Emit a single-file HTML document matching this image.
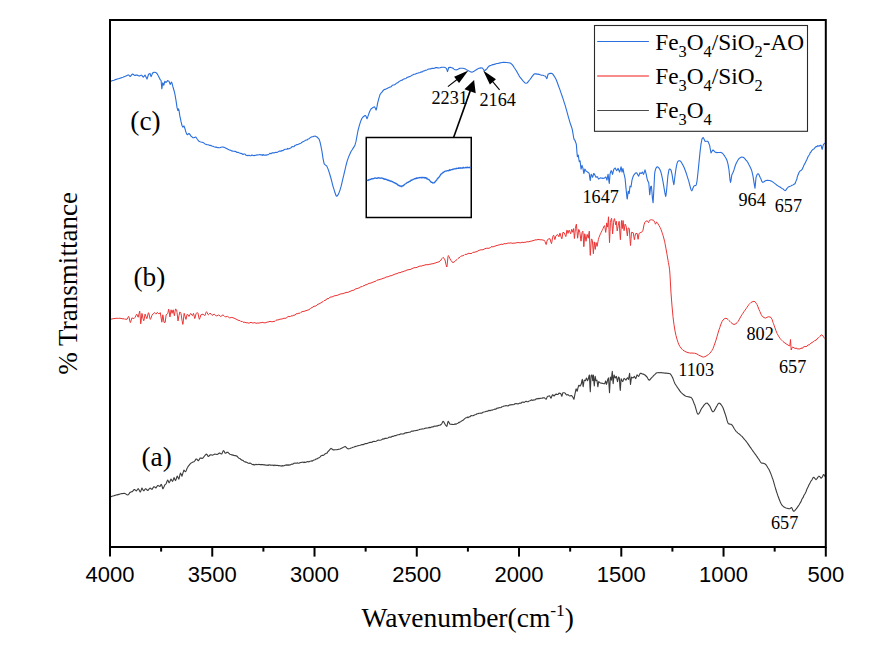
<!DOCTYPE html>
<html><head><meta charset="utf-8"><title>FTIR</title>
<style>
html,body{margin:0;padding:0;background:#fff;}
body{width:881px;height:655px;overflow:hidden;}
svg{display:block;}
text{font-family:"Liberation Serif",serif;fill:#000;}
.tk text{font-family:"Liberation Sans",sans-serif;font-size:22px;text-anchor:middle;}
.pk text{font-size:18.2px;}
.lg text{font-size:23.3px;}
.ab text{font-size:27.3px;}
</style></head><body>
<svg width="881" height="655" viewBox="0 0 881 655">
<rect x="0" y="0" width="881" height="655" fill="#fff"/>
<g fill="none" stroke-linejoin="round" stroke-linecap="round">
<path d="M110.3,81.3 L111.0,81.2 L112.0,80.8 L113.0,80.5 L114.0,80.2 L115.0,79.7 L116.0,79.4 L117.0,79.2 L117.2,79.0 L118.0,78.8 L119.0,78.6 L120.0,78.2 L121.0,77.9 L122.0,77.5 L123.0,77.2 L124.0,76.7 L124.8,76.5 L125.0,76.5 L126.0,75.9 L127.0,75.5 L128.0,75.1 L128.6,74.9 L129.0,75.3 L130.0,76.5 L130.2,76.5 L131.0,75.7 L132.0,74.4 L132.5,74.0 L133.0,74.2 L134.0,75.0 L134.8,75.4 L135.0,75.4 L136.0,75.1 L137.0,75.1 L138.0,75.4 L139.0,76.1 L139.3,76.1 L140.0,75.7 L141.0,75.3 L141.6,75.2 L142.0,75.6 L143.0,76.9 L143.4,77.1 L144.0,76.4 L145.0,75.0 L146.0,77.0 L147.0,79.1 L148.0,76.0 L148.5,74.5 L149.0,74.0 L150.0,73.4 L151.0,76.5 L151.1,76.6 L152.0,74.5 L152.6,73.0 L153.0,72.7 L154.0,72.4 L154.6,72.3 L155.0,72.3 L156.0,72.7 L156.9,73.5 L157.0,73.4 L158.0,75.3 L158.4,76.0 L159.0,77.2 L159.9,79.0 L160.0,79.3 L161.0,80.5 L161.1,80.5 L161.8,88.8 L162.0,87.9 L162.7,82.8 L163.0,83.3 L163.7,85.3 L164.0,84.6 L164.8,81.3 L165.0,81.5 L166.0,82.5 L167.0,81.3 L167.6,80.6 L168.0,80.8 L169.0,81.4 L169.1,81.4 L170.0,84.1 L170.3,84.4 L171.0,82.7 L171.4,82.1 L172.0,83.1 L172.9,86.6 L173.0,87.0 L174.0,90.5 L174.4,91.9 L175.0,94.7 L175.9,99.8 L176.0,100.3 L177.0,107.4 L177.9,110.5 L178.0,110.3 L178.5,108.8 L179.0,110.5 L179.8,115.7 L180.0,116.7 L181.0,121.4 L181.3,122.6 L182.0,125.5 L182.8,127.1 L183.0,127.0 L184.0,126.0 L185.0,128.7 L185.6,131.0 L186.0,132.2 L187.0,134.5 L187.4,134.8 L188.0,134.2 L188.9,133.5 L189.0,133.5 L190.0,134.5 L191.0,136.1 L191.2,136.3 L192.0,136.9 L193.0,137.7 L193.5,137.8 L194.0,137.8 L195.0,137.3 L195.8,137.1 L196.0,137.2 L197.0,138.7 L197.3,139.2 L198.0,140.2 L199.0,141.3 L199.6,141.5 L200.0,141.7 L201.0,142.0 L202.0,142.2 L202.7,142.4 L203.0,142.5 L204.0,143.1 L205.0,143.9 L205.7,144.2 L206.0,144.3 L207.0,144.7 L208.0,144.7 L209.0,145.1 L210.0,145.4 L210.3,145.4 L211.0,145.6 L212.0,146.1 L213.0,146.3 L214.0,146.7 L214.9,147.0 L215.0,147.1 L216.0,147.1 L217.0,147.4 L218.0,147.6 L219.0,147.8 L219.4,147.7 L220.0,147.7 L221.0,147.3 L222.0,147.0 L222.5,147.0 L223.0,147.1 L224.0,147.3 L225.0,147.7 L226.0,148.2 L227.0,148.8 L227.1,148.7 L228.0,149.3 L229.0,149.8 L230.0,150.1 L231.0,150.6 L231.6,150.9 L232.0,150.9 L233.0,151.2 L234.0,151.2 L235.0,151.4 L236.0,151.6 L237.0,152.5 L238.0,152.3 L239.0,152.8 L240.0,153.2 L241.0,153.4 L242.0,153.7 L243.0,154.5 L244.0,154.0 L245.0,154.0 L246.0,155.3 L247.0,155.4 L248.0,155.7 L249.0,155.1 L250.0,155.7 L251.0,155.7 L252.0,154.9 L253.0,155.5 L254.0,155.6 L255.0,155.4 L256.0,155.2 L257.0,154.9 L258.0,155.0 L259.0,154.8 L260.0,154.6 L261.0,155.1 L262.0,154.8 L262.5,155.3 L263.0,154.5 L264.0,155.3 L265.0,155.0 L266.0,155.1 L267.0,154.9 L268.0,154.7 L269.0,154.1 L270.0,153.2 L271.0,153.8 L272.0,152.9 L273.0,152.8 L274.0,152.9 L275.0,152.5 L276.0,152.2 L277.0,152.5 L278.0,151.9 L279.0,151.3 L280.0,150.9 L281.0,151.3 L282.0,150.5 L283.0,150.6 L284.0,149.8 L285.0,149.3 L286.0,149.3 L287.0,149.3 L287.5,148.4 L288.0,148.9 L289.0,148.7 L290.0,148.2 L291.0,147.8 L292.0,146.5 L293.0,146.8 L294.0,146.6 L295.0,145.3 L296.0,145.1 L297.0,144.6 L298.0,144.5 L299.0,143.9 L300.0,143.5 L301.0,143.2 L302.0,142.2 L303.0,141.7 L304.0,141.2 L305.0,140.6 L306.0,140.0 L307.0,140.0 L307.5,139.7 L308.0,139.0 L309.0,138.7 L310.0,137.9 L311.0,137.3 L312.0,136.8 L313.0,136.6 L314.0,136.3 L314.5,136.2 L315.0,136.1 L316.0,136.5 L317.0,137.0 L318.0,138.0 L318.8,138.9 L319.0,139.0 L320.0,141.9 L321.0,146.3 L321.2,147.5 L322.0,151.6 L323.0,158.3 L324.0,163.1 L324.2,163.8 L325.0,164.7 L326.0,165.4 L326.8,166.2 L327.0,166.6 L328.0,168.9 L329.0,171.8 L330.0,175.0 L331.0,178.5 L332.0,182.4 L333.0,186.3 L333.8,188.8 L334.0,189.4 L335.0,192.8 L336.0,195.5 L336.8,196.3 L337.0,196.3 L338.0,194.9 L339.0,192.7 L340.0,190.1 L341.0,186.7 L342.0,182.6 L343.0,178.1 L343.8,175.1 L344.0,174.0 L345.0,169.8 L346.0,165.5 L347.0,161.6 L347.5,160.1 L348.0,158.6 L349.0,155.9 L350.0,153.8 L351.0,151.6 L351.2,151.2 L352.0,150.0 L353.0,148.4 L354.0,146.9 L355.0,144.9 L356.0,141.4 L357.0,135.9 L358.0,130.5 L358.8,127.6 L359.0,126.6 L360.0,123.4 L361.0,120.4 L362.0,118.3 L362.5,117.6 L363.0,117.0 L364.0,116.2 L365.0,115.5 L365.5,115.6 L366.0,116.3 L367.0,118.8 L368.0,116.2 L368.8,113.8 L369.0,113.3 L370.0,110.7 L371.0,109.0 L371.2,108.8 L372.0,108.2 L373.0,107.4 L374.0,107.0 L374.5,106.9 L375.0,107.6 L376.0,109.9 L376.2,110.0 L377.0,106.7 L377.5,103.7 L378.0,101.6 L379.0,97.8 L380.0,94.6 L381.0,93.2 L382.0,92.2 L383.0,90.6 L383.8,90.2 L384.0,89.5 L385.0,89.4 L386.0,88.9 L387.0,88.4 L388.0,87.9 L389.0,87.5 L390.0,87.1 L391.0,86.8 L392.0,85.6 L393.0,85.0 L394.0,85.0 L395.0,84.5 L396.0,83.6 L397.0,82.9 L398.0,82.6 L399.0,81.5 L400.0,81.0 L401.0,80.4 L402.0,80.3 L403.0,79.5 L404.0,78.9 L405.0,78.8 L406.0,78.5 L407.0,77.4 L408.0,77.3 L409.0,76.6 L410.0,76.6 L411.0,75.9 L412.0,75.2 L413.0,74.8 L414.0,74.2 L415.0,74.3 L416.0,73.8 L417.0,73.3 L418.0,73.1 L419.0,72.7 L420.0,72.7 L421.0,71.8 L422.0,72.1 L423.0,71.2 L424.0,70.9 L425.0,70.4 L426.0,70.3 L427.0,69.9 L428.0,69.3 L429.0,69.0 L430.0,68.9 L431.0,68.9 L432.0,68.3 L433.0,68.4 L434.0,68.5 L435.0,67.9 L436.0,67.6 L437.0,67.5 L437.5,67.9 L438.0,67.8 L439.0,68.0 L440.0,67.8 L441.0,67.4 L442.0,67.3 L443.0,67.3 L444.0,67.2 L445.0,67.5 L446.0,68.1 L446.4,68.4 L447.0,70.2 L447.5,71.6 L448.0,70.0 L448.7,67.5 L449.0,67.6 L450.0,67.4 L451.0,67.4 L451.1,67.6 L452.0,67.7 L453.0,68.3 L454.0,69.1 L455.0,69.7 L455.9,69.8 L456.0,69.9 L457.0,69.7 L458.0,69.2 L459.0,68.6 L460.0,68.3 L460.7,68.3 L461.0,68.2 L462.0,68.3 L463.0,68.3 L464.0,68.5 L464.6,68.7 L465.0,68.7 L466.0,69.4 L467.0,70.0 L467.8,70.2 L468.0,70.5 L469.0,70.9 L470.0,71.6 L471.0,72.0 L471.8,72.1 L472.0,72.1 L473.0,71.8 L474.0,71.3 L475.0,70.6 L476.0,70.1 L477.0,69.3 L478.0,68.7 L478.1,68.6 L479.0,68.3 L480.0,68.1 L481.0,67.9 L482.0,68.0 L482.1,67.9 L483.0,68.8 L484.0,70.3 L484.5,70.7 L485.0,70.5 L486.0,69.5 L486.1,69.6 L487.0,68.6 L488.0,67.1 L489.0,66.3 L489.3,65.9 L490.0,65.6 L491.0,65.3 L492.0,64.9 L493.0,64.6 L494.0,64.4 L495.0,64.1 L495.6,64.0 L496.0,63.8 L497.0,63.5 L498.0,63.4 L499.0,63.2 L500.0,62.9 L501.0,62.7 L502.0,62.5 L503.0,62.4 L503.6,62.4 L504.0,62.5 L505.0,62.3 L506.0,62.5 L507.0,62.5 L508.0,62.7 L509.0,62.7 L510.0,63.1 L511.0,63.6 L511.2,63.8 L512.0,64.4 L513.0,65.6 L514.0,67.3 L515.0,68.7 L516.0,70.2 L517.0,71.9 L518.0,73.7 L519.0,75.6 L520.0,77.1 L521.0,78.4 L521.2,78.7 L522.0,79.6 L523.0,80.9 L524.0,82.0 L525.0,82.9 L526.0,83.3 L526.2,83.2 L527.0,83.0 L528.0,82.0 L529.0,80.7 L530.0,79.5 L531.0,78.1 L532.0,76.6 L533.0,75.3 L534.0,74.1 L535.0,73.8 L536.0,73.9 L537.0,74.1 L538.0,74.1 L539.0,74.4 L540.0,74.7 L541.0,75.0 L541.2,75.1 L542.0,75.2 L543.0,75.3 L544.0,75.7 L545.0,76.0 L545.5,76.3 L546.0,77.3 L546.8,78.6 L547.0,78.4 L548.0,74.3 L549.0,73.7 L550.0,73.4 L551.0,73.2 L551.2,73.2 L552.0,73.5 L553.0,74.4 L554.0,75.9 L555.0,77.5 L556.0,79.3 L557.0,81.7 L558.0,84.5 L559.0,87.3 L560.0,89.9 L561.0,92.9 L562.0,95.7 L563.0,98.6 L564.0,101.8 L565.0,104.9 L566.0,108.3 L567.0,111.9 L568.0,115.6 L569.0,119.1 L570.0,122.6 L571.0,125.5 L572.0,128.4 L572.4,130.1 L573.0,133.7 L573.9,139.0 L574.0,139.2 L574.9,140.4 L575.0,140.5 L576.0,143.2 L576.4,144.9 L577.0,153.0 L577.4,156.6 L578.0,155.6 L578.3,155.1 L579.0,160.2 L579.3,161.6 L580.0,160.9 L580.1,160.9 L581.0,168.8 L581.1,169.1 L582.0,165.4 L583.0,168.4 L583.8,173.5 L584.0,173.1 L584.8,169.1 L585.0,169.2 L586.0,171.0 L586.3,171.3 L587.0,171.6 L587.8,172.2 L588.0,172.3 L589.0,173.1 L589.2,173.5 L590.0,179.3 L590.3,180.5 L591.0,175.0 L591.2,174.2 L592.0,176.0 L592.6,177.3 L593.0,176.0 L593.7,173.5 L594.0,173.6 L594.8,174.9 L595.0,175.3 L596.0,177.2 L597.0,176.9 L597.5,176.8 L598.0,177.9 L598.5,178.9 L599.0,178.9 L600.0,178.1 L600.7,177.9 L601.0,178.0 L602.0,178.1 L603.0,178.4 L603.7,178.3 L604.0,178.3 L605.0,177.6 L605.9,177.1 L606.0,177.4 L606.9,180.1 L607.0,180.0 L608.0,174.4 L608.1,174.2 L609.0,182.0 L609.3,183.4 L610.0,174.2 L611.0,170.8 L611.4,170.7 L612.0,172.6 L612.5,174.4 L613.0,172.6 L613.6,169.9 L614.0,169.1 L615.0,168.1 L615.2,168.0 L616.0,169.6 L616.7,170.6 L617.0,170.3 L618.0,168.4 L618.2,168.4 L619.0,170.8 L619.6,172.1 L620.0,171.1 L621.0,166.9 L621.1,166.8 L622.0,171.9 L622.1,172.0 L622.9,168.6 L623.0,168.8 L624.0,173.9 L624.1,174.2 L625.0,178.2 L625.1,178.7 L626.0,188.1 L626.1,189.1 L627.0,198.2 L627.3,199.0 L628.0,192.9 L628.3,191.2 L629.0,193.3 L629.2,193.4 L630.0,186.1 L631.0,186.9 L632.0,180.1 L633.0,176.8 L633.5,175.7 L634.0,174.8 L635.0,173.6 L636.0,172.8 L636.5,172.9 L637.0,173.3 L637.6,174.4 L638.0,175.1 L638.7,176.1 L639.0,175.4 L639.8,172.8 L640.0,172.8 L641.0,173.5 L641.3,173.5 L642.0,172.5 L642.4,172.0 L643.0,173.4 L643.5,174.3 L644.0,173.2 L645.0,169.8 L646.0,173.4 L646.2,174.2 L647.0,178.3 L647.7,180.8 L648.0,181.4 L648.7,182.5 L649.0,185.5 L649.7,194.8 L650.0,192.8 L650.6,186.9 L651.0,186.3 L651.4,186.2 L652.0,192.6 L652.4,197.9 L653.0,202.5 L653.1,202.7 L653.9,189.0 L654.0,186.9 L654.6,174.2 L655.0,171.4 L655.6,169.2 L656.0,168.1 L657.0,166.9 L657.1,166.8 L658.0,167.1 L659.0,168.1 L660.0,169.7 L660.9,172.0 L661.0,172.3 L662.0,176.7 L662.7,180.2 L663.0,181.7 L664.0,187.6 L664.5,190.6 L665.0,193.5 L665.7,196.4 L666.0,195.3 L666.7,189.1 L667.0,185.8 L667.9,175.8 L668.0,175.1 L669.0,169.7 L669.4,169.0 L670.0,169.1 L670.8,169.9 L671.0,170.0 L672.0,174.1 L672.3,175.8 L673.0,180.6 L673.8,184.7 L674.0,184.0 L674.8,177.2 L675.0,175.7 L676.0,168.6 L676.3,166.9 L677.0,163.6 L677.8,161.4 L678.0,161.3 L679.0,160.7 L679.7,160.7 L680.0,160.8 L681.0,161.7 L681.9,163.3 L682.0,163.4 L683.0,165.2 L684.0,167.3 L685.0,169.8 L686.0,172.5 L687.0,175.7 L688.0,178.8 L688.8,181.2 L689.0,182.1 L690.0,186.0 L691.0,189.7 L691.8,190.8 L692.0,190.6 L693.0,188.0 L693.8,186.3 L694.0,186.0 L695.0,185.6 L696.0,185.3 L696.2,185.0 L697.0,181.3 L698.0,172.4 L699.0,162.4 L700.0,152.4 L701.0,144.1 L702.0,138.8 L703.0,137.7 L703.2,137.6 L704.0,139.0 L705.0,141.4 L706.0,141.3 L707.0,141.2 L707.8,141.4 L708.0,141.5 L709.0,143.7 L709.8,146.2 L710.0,147.6 L711.0,153.0 L712.0,151.3 L712.8,150.1 L713.0,150.0 L714.0,150.9 L715.0,151.9 L716.0,152.4 L717.0,152.6 L718.0,152.5 L719.0,152.5 L720.0,152.5 L721.0,152.4 L722.0,152.9 L723.0,153.8 L724.0,155.2 L724.8,156.2 L725.0,156.7 L726.0,158.3 L727.0,160.5 L727.2,161.2 L728.0,164.2 L729.0,170.0 L730.0,179.9 L730.5,182.4 L731.0,180.3 L731.8,175.0 L732.0,174.4 L733.0,172.4 L733.5,171.3 L734.0,169.8 L735.0,166.5 L736.0,163.7 L737.0,161.7 L738.0,160.0 L739.0,158.7 L739.8,158.0 L740.0,157.9 L741.0,157.3 L742.0,157.0 L742.2,157.1 L743.0,157.3 L744.0,157.8 L745.0,158.8 L746.0,160.1 L747.0,161.2 L748.0,162.8 L749.0,164.8 L749.8,166.3 L750.0,166.7 L751.0,168.8 L752.0,171.6 L752.2,172.6 L753.0,176.2 L754.0,182.6 L755.0,188.3 L756.0,177.6 L757.0,174.6 L758.0,173.7 L759.0,174.7 L760.0,177.0 L760.2,177.5 L761.0,179.1 L762.0,181.7 L762.8,182.4 L763.0,182.4 L764.0,181.8 L765.0,181.0 L766.0,180.5 L767.0,180.4 L768.0,180.4 L769.0,180.5 L769.8,180.5 L770.0,180.6 L771.0,180.9 L772.0,181.5 L773.0,182.1 L773.5,182.4 L774.0,182.9 L775.0,183.6 L776.0,184.4 L777.0,185.2 L778.0,185.9 L778.5,186.2 L779.0,186.5 L780.0,187.0 L781.0,187.8 L782.0,188.4 L782.8,188.8 L783.0,188.9 L784.0,189.9 L785.0,190.6 L785.2,190.6 L786.0,190.0 L787.0,188.4 L787.8,187.5 L788.0,187.2 L789.0,186.6 L790.0,186.3 L791.0,185.9 L792.0,185.3 L793.0,184.9 L794.0,184.3 L794.8,183.7 L795.0,183.8 L796.0,181.1 L797.0,178.7 L797.2,177.1 L798.0,175.0 L799.0,172.5 L800.0,171.0 L801.0,170.6 L802.0,169.5 L802.2,169.3 L803.0,167.6 L804.0,165.0 L805.0,163.4 L806.0,161.3 L807.0,159.2 L808.0,156.8 L809.0,155.3 L809.8,154.2 L810.0,152.9 L811.0,152.0 L812.0,150.3 L813.0,149.3 L813.5,149.2 L814.0,148.9 L815.0,147.7 L816.0,146.5 L817.0,146.8 L817.2,145.9 L818.0,145.9 L819.0,146.2 L820.0,145.4 L821.0,145.2 L822.0,149.0 L822.2,149.3 L823.0,145.9 L823.5,144.4 L824.0,143.9 L825.0,143.3 L825.2,143.5" stroke="#2a6fdd" stroke-width="1.1"/>
<path d="M110.2,319.3 L111.0,319.1 L112.0,319.0 L113.0,318.7 L114.0,318.6 L115.0,318.5 L116.0,318.3 L117.0,318.3 L118.0,318.3 L118.3,318.4 L119.0,318.2 L120.0,318.3 L121.0,318.4 L122.0,318.7 L123.0,318.8 L124.0,318.8 L124.2,319.0 L125.0,319.1 L126.0,319.2 L127.0,319.3 L127.1,319.2 L128.0,317.3 L128.6,316.4 L129.0,317.1 L130.0,321.8 L130.4,322.6 L131.0,320.9 L131.9,317.9 L132.0,317.9 L133.0,318.4 L133.8,318.6 L134.0,318.6 L135.0,317.4 L135.2,317.1 L136.0,315.3 L136.7,314.2 L137.0,314.6 L138.0,317.1 L138.2,317.2 L139.0,313.9 L139.7,311.2 L140.0,313.9 L140.7,323.8 L141.0,322.1 L141.9,313.5 L142.0,313.4 L143.0,318.4 L143.7,320.8 L144.0,320.1 L145.0,314.4 L145.1,314.1 L146.0,316.5 L146.8,318.7 L147.0,318.4 L148.0,314.0 L148.5,312.7 L149.0,313.9 L150.0,318.8 L150.3,319.4 L151.0,318.1 L152.0,315.2 L152.2,314.9 L153.0,313.9 L154.0,312.9 L154.4,312.6 L155.0,313.2 L155.9,314.1 L156.0,314.1 L157.0,312.8 L157.4,312.3 L158.0,312.9 L158.9,313.9 L159.0,313.8 L160.0,312.9 L160.3,312.6 L161.0,317.0 L161.8,322.2 L162.0,321.5 L162.8,314.8 L163.0,315.4 L164.0,322.4 L165.0,322.4 L165.2,322.3 L166.0,316.0 L166.2,314.8 L167.0,314.1 L167.7,313.5 L168.0,312.3 L168.7,309.2 L169.0,310.6 L169.9,317.0 L170.0,316.9 L171.0,310.0 L171.1,309.8 L172.0,313.3 L172.1,313.3 L173.0,310.0 L173.2,309.8 L174.0,314.1 L174.4,315.7 L175.0,311.9 L175.5,309.0 L176.0,309.3 L176.6,309.8 L177.0,312.3 L178.0,320.9 L179.0,315.6 L179.8,311.9 L180.0,312.1 L181.0,313.5 L182.0,320.2 L182.8,324.4 L183.0,323.9 L184.0,314.1 L184.2,313.3 L185.0,316.2 L185.9,319.4 L186.0,319.2 L187.0,314.8 L187.3,314.1 L188.0,314.8 L189.0,316.5 L189.1,316.3 L190.0,314.5 L190.6,313.4 L191.0,313.8 L192.0,315.4 L192.4,315.7 L193.0,314.3 L193.5,313.4 L194.0,315.3 L194.7,318.5 L195.0,318.1 L196.0,313.8 L196.2,313.4 L197.0,312.8 L197.7,312.8 L198.0,313.2 L199.0,318.3 L199.4,319.3 L200.0,317.8 L200.9,314.8 L201.0,314.8 L202.0,314.4 L203.0,314.2 L203.1,314.1 L204.0,315.1 L204.6,315.8 L205.0,315.3 L206.0,312.4 L206.5,311.7 L207.0,312.3 L208.0,314.6 L208.3,314.8 L209.0,314.2 L210.0,313.1 L210.1,313.0 L211.0,314.2 L212.0,315.3 L213.0,314.9 L214.0,314.2 L214.2,314.2 L215.0,314.7 L216.0,315.9 L216.4,315.9 L217.0,315.8 L218.0,315.1 L218.6,315.0 L219.0,315.1 L220.0,316.0 L220.8,316.5 L221.0,316.4 L222.0,315.5 L223.0,314.9 L224.0,315.7 L225.0,316.8 L225.3,316.8 L226.0,316.8 L227.0,316.5 L227.5,316.4 L228.0,316.6 L229.0,317.5 L229.7,317.9 L230.0,317.9 L231.0,317.5 L231.9,317.4 L232.0,317.5 L233.0,317.7 L234.0,318.2 L235.0,318.6 L236.0,319.1 L237.0,319.6 L238.0,320.1 L239.0,320.6 L240.0,320.5 L241.0,321.7 L242.0,321.2 L243.0,322.2 L244.0,322.3 L245.0,322.2 L246.0,322.8 L247.0,322.7 L248.0,322.9 L249.0,323.3 L250.0,322.6 L251.0,322.4 L252.0,322.7 L253.0,323.2 L254.0,322.7 L255.0,322.6 L256.0,323.4 L257.0,323.1 L258.0,322.9 L259.0,323.3 L260.0,322.6 L261.0,322.9 L262.0,322.3 L263.0,322.5 L264.0,322.8 L265.0,322.8 L266.0,322.7 L267.0,322.0 L268.0,322.1 L269.0,321.7 L270.0,321.3 L271.0,321.6 L272.0,321.8 L273.0,321.6 L274.0,321.3 L275.0,321.3 L276.0,320.3 L277.0,319.9 L278.0,320.0 L279.0,319.5 L280.0,319.2 L281.0,319.1 L282.0,319.0 L283.0,318.6 L284.0,318.1 L285.0,318.4 L286.0,318.2 L287.0,317.4 L288.0,316.6 L289.0,316.3 L290.0,316.9 L291.0,315.7 L292.0,316.1 L293.0,315.6 L294.0,315.0 L295.0,315.2 L296.0,313.9 L297.0,313.7 L298.0,313.7 L299.0,312.9 L300.0,313.4 L301.0,312.3 L302.0,311.8 L303.0,311.3 L304.0,311.5 L305.0,310.9 L306.0,310.7 L307.0,310.3 L308.0,310.0 L309.0,309.7 L310.0,308.9 L311.0,307.9 L312.0,307.7 L313.0,306.9 L314.0,306.2 L315.0,306.2 L316.0,306.0 L317.0,304.8 L318.0,304.3 L319.0,303.8 L320.0,303.5 L321.0,302.7 L322.0,302.1 L323.0,301.7 L324.0,300.6 L325.0,300.4 L326.0,300.0 L327.0,298.5 L328.0,298.9 L329.0,298.2 L330.0,297.1 L331.0,297.1 L332.0,296.8 L333.0,296.6 L334.0,295.9 L335.0,295.7 L336.0,295.6 L337.0,295.3 L338.0,295.1 L339.0,294.5 L340.0,294.3 L341.0,293.7 L342.0,293.8 L343.0,293.6 L344.0,293.2 L345.0,293.0 L346.0,292.3 L347.0,292.5 L348.0,292.3 L349.0,291.9 L350.0,291.3 L351.0,291.1 L352.0,290.4 L353.0,290.4 L354.0,290.0 L355.0,289.3 L356.0,288.7 L357.0,288.6 L358.0,288.2 L359.0,288.0 L360.0,287.4 L361.0,286.6 L362.0,286.8 L363.0,285.8 L364.0,285.9 L365.0,285.0 L366.0,284.7 L367.0,284.6 L368.0,283.8 L369.0,283.4 L370.0,283.2 L371.0,283.0 L372.0,282.6 L373.0,282.1 L374.0,281.9 L375.0,281.2 L376.0,281.2 L377.0,280.2 L378.0,279.9 L379.0,279.8 L380.0,279.3 L381.0,279.2 L382.0,278.8 L383.0,278.3 L384.0,278.2 L385.0,277.7 L386.0,277.1 L387.0,276.8 L388.0,276.8 L389.0,276.5 L390.0,275.7 L391.0,275.8 L392.0,275.5 L393.0,274.9 L394.0,274.6 L395.0,274.0 L396.0,273.9 L397.0,273.5 L398.0,273.2 L399.0,272.5 L400.0,272.8 L401.0,272.2 L402.0,271.8 L403.0,271.7 L404.0,271.2 L405.0,270.9 L406.0,270.7 L407.0,269.9 L408.0,269.9 L409.0,269.5 L410.0,269.6 L411.0,269.2 L412.0,268.5 L413.0,268.3 L414.0,267.7 L415.0,267.7 L416.0,267.6 L417.0,267.4 L418.0,266.8 L419.0,266.4 L420.0,266.0 L421.0,266.1 L422.0,266.0 L423.0,265.3 L424.0,265.5 L425.0,264.8 L426.0,264.8 L427.0,264.6 L428.0,264.8 L429.0,264.4 L430.0,264.2 L431.0,264.2 L432.0,263.6 L433.0,263.9 L434.0,263.2 L435.0,263.2 L436.0,262.7 L437.0,262.3 L438.0,262.2 L439.0,261.7 L440.0,261.2 L441.0,260.0 L442.0,258.4 L443.0,257.4 L444.0,258.2 L445.0,260.0 L446.0,264.6 L446.8,267.0 L447.0,266.2 L448.0,256.4 L448.2,255.6 L449.0,256.4 L450.0,258.8 L451.0,260.5 L452.0,261.9 L453.0,262.5 L454.0,262.1 L455.0,261.3 L456.0,260.1 L456.2,260.1 L457.0,259.5 L458.0,258.5 L459.0,257.7 L460.0,257.2 L461.0,256.2 L461.2,255.9 L462.0,256.2 L463.0,255.4 L464.0,255.4 L465.0,254.4 L466.0,254.4 L467.0,254.3 L468.0,253.4 L469.0,253.3 L470.0,253.5 L471.0,253.5 L472.0,253.3 L473.0,252.2 L474.0,252.3 L475.0,252.2 L476.0,251.7 L477.0,251.6 L478.0,250.8 L479.0,250.4 L480.0,250.1 L481.0,249.7 L482.0,249.9 L483.0,249.6 L484.0,249.3 L485.0,248.6 L486.0,248.4 L487.0,248.1 L488.0,248.4 L489.0,248.2 L490.0,247.9 L491.0,246.9 L492.0,246.5 L493.0,247.1 L494.0,246.3 L495.0,246.3 L496.0,245.6 L497.0,245.5 L498.0,245.2 L499.0,244.9 L500.0,244.8 L501.0,244.0 L502.0,244.4 L503.0,244.4 L504.0,243.6 L505.0,243.7 L506.0,243.8 L507.0,243.4 L508.0,243.1 L509.0,243.0 L510.0,243.2 L511.0,242.7 L512.0,243.4 L513.0,243.2 L514.0,243.1 L515.0,243.2 L516.0,242.9 L517.0,242.6 L518.0,242.7 L519.0,242.5 L520.0,242.9 L521.0,242.7 L522.0,242.1 L523.0,242.6 L524.0,242.3 L525.0,242.3 L526.0,242.2 L527.0,241.6 L528.0,241.9 L529.0,241.7 L530.0,241.3 L531.0,241.2 L532.0,241.0 L533.0,240.5 L534.0,240.5 L535.0,239.8 L536.0,239.9 L537.0,239.9 L538.0,239.3 L539.0,239.7 L540.0,239.7 L541.0,239.8 L542.0,239.8 L543.0,240.1 L544.0,240.3 L544.4,240.4 L545.0,241.6 L546.0,244.4 L546.2,244.5 L547.0,241.1 L547.4,239.8 L548.0,239.3 L549.0,238.8 L550.0,238.7 L551.0,242.5 L551.5,243.6 L552.0,241.2 L552.5,237.8 L553.0,236.1 L553.6,235.2 L554.0,236.3 L554.8,239.6 L555.0,239.4 L555.9,235.9 L556.0,235.8 L557.0,234.9 L557.7,234.5 L558.0,234.8 L558.9,236.8 L559.0,236.6 L559.9,233.1 L560.0,233.1 L561.0,236.7 L561.8,238.8 L562.0,238.3 L562.9,232.4 L563.0,232.2 L564.0,232.9 L564.3,232.9 L565.0,234.8 L565.8,236.6 L566.0,236.1 L566.9,230.1 L567.0,230.1 L568.0,233.4 L569.0,230.3 L569.2,230.1 L570.0,232.2 L570.7,233.8 L571.0,232.8 L571.7,229.3 L572.0,229.9 L572.8,232.3 L573.0,231.8 L573.6,228.6 L574.0,233.5 L574.4,238.5 L575.0,232.9 L575.4,228.5 L576.0,225.2 L576.4,224.2 L577.0,231.3 L577.6,238.2 L578.0,235.4 L578.7,229.4 L579.0,229.7 L579.8,232.2 L580.0,233.6 L581.0,241.2 L582.0,232.7 L582.1,232.4 L582.8,231.2 L583.0,232.9 L583.8,246.7 L584.0,245.0 L584.7,233.8 L585.0,234.9 L586.0,241.3 L587.0,235.0 L587.2,234.4 L588.0,237.5 L588.3,238.2 L589.0,232.7 L589.3,231.2 L590.0,250.3 L590.3,255.4 L591.0,243.9 L591.4,238.9 L592.0,239.5 L592.4,240.4 L593.0,249.3 L593.4,253.7 L594.0,245.0 L594.3,241.9 L595.0,247.8 L595.3,249.4 L596.0,242.9 L596.1,242.5 L597.0,246.1 L597.1,246.4 L598.0,241.4 L598.3,239.7 L599.0,237.4 L600.0,234.9 L600.5,233.8 L601.0,232.7 L602.0,230.7 L602.7,229.3 L603.0,228.7 L604.0,226.2 L604.6,225.6 L605.0,227.8 L605.7,232.4 L606.0,230.4 L606.7,222.9 L607.0,224.0 L607.6,227.1 L608.0,222.8 L608.5,216.8 L609.0,229.6 L609.5,242.6 L610.0,231.7 L610.4,222.6 L611.0,219.6 L611.6,218.3 L612.0,223.8 L612.6,233.8 L613.0,229.8 L613.5,222.6 L614.0,219.8 L614.5,218.6 L615.0,221.0 L615.7,224.8 L616.0,223.4 L616.4,221.3 L617.0,229.3 L617.2,230.9 L618.0,226.8 L618.2,225.7 L619.0,221.5 L619.2,221.3 L620.0,234.9 L620.4,239.7 L621.0,228.9 L621.5,220.5 L622.0,226.0 L622.3,228.6 L623.0,220.9 L623.1,220.5 L624.0,230.5 L624.1,230.7 L625.0,224.5 L625.1,224.1 L626.0,225.9 L626.3,227.1 L627.0,233.7 L627.4,236.0 L628.0,229.1 L628.2,228.0 L629.0,228.2 L629.3,228.5 L630.0,239.4 L630.5,245.5 L631.0,238.9 L631.5,232.3 L632.0,232.4 L633.0,232.7 L633.3,232.9 L634.0,237.7 L634.4,239.7 L635.0,236.4 L635.5,233.7 L636.0,233.6 L637.0,233.3 L637.1,233.4 L638.0,239.1 L638.1,239.3 L639.0,233.9 L639.2,233.4 L640.0,232.8 L641.0,232.5 L641.5,232.3 L642.0,231.9 L643.0,230.2 L644.0,224.8 L645.0,222.1 L645.5,221.5 L646.0,221.2 L647.0,220.9 L647.4,220.9 L648.0,221.9 L648.5,222.7 L649.0,221.6 L649.5,220.2 L650.0,220.1 L651.0,219.8 L651.4,219.7 L652.0,219.9 L653.0,220.2 L653.3,220.2 L654.0,220.8 L654.8,222.4 L655.0,223.0 L655.5,224.2 L656.0,223.3 L656.6,222.0 L657.0,222.3 L658.0,223.8 L659.0,225.5 L660.0,227.3 L660.3,227.8 L661.0,229.4 L662.0,232.3 L662.5,233.9 L663.0,235.3 L664.0,239.0 L664.7,241.8 L665.0,243.4 L666.0,248.8 L666.6,252.1 L667.0,254.4 L668.0,260.2 L668.4,262.5 L669.0,265.8 L669.6,269.9 L670.0,275.1 L671.0,293.1 L672.0,305.9 L673.0,316.7 L673.5,321.0 L674.0,324.7 L675.0,330.9 L676.0,335.6 L677.0,339.2 L678.0,342.4 L679.0,344.9 L679.8,346.3 L680.0,346.7 L681.0,348.0 L682.0,349.2 L683.0,350.2 L684.0,350.8 L684.8,351.3 L685.0,351.4 L686.0,351.9 L687.0,352.3 L688.0,352.6 L689.0,352.8 L689.8,353.0 L690.0,353.1 L691.0,353.1 L692.0,353.0 L693.0,353.1 L694.0,353.2 L694.8,353.2 L695.0,353.4 L696.0,353.5 L697.0,354.1 L698.0,354.7 L698.5,355.0 L699.0,355.3 L700.0,355.7 L701.0,356.2 L702.0,356.7 L703.0,357.0 L703.5,357.1 L704.0,356.9 L705.0,356.6 L706.0,356.1 L707.0,355.5 L708.0,354.8 L708.5,354.5 L709.0,354.1 L710.0,353.1 L711.0,351.8 L712.0,350.4 L712.2,349.9 L713.0,348.6 L714.0,345.9 L715.0,343.0 L716.0,340.1 L717.0,336.7 L718.0,333.1 L719.0,329.8 L719.8,327.6 L720.0,326.8 L721.0,324.0 L722.0,321.6 L723.0,320.0 L724.0,319.1 L725.0,318.4 L726.0,318.3 L727.0,318.7 L728.0,319.5 L729.0,320.6 L729.8,321.3 L730.0,321.4 L731.0,322.5 L732.0,323.4 L733.0,324.1 L734.0,324.4 L735.0,324.2 L736.0,323.6 L737.0,322.8 L737.2,322.5 L738.0,321.6 L739.0,319.9 L740.0,318.0 L741.0,316.2 L742.0,314.6 L743.0,313.2 L744.0,311.6 L745.0,310.2 L746.0,308.8 L747.0,307.3 L748.0,305.9 L749.0,304.4 L750.0,303.4 L751.0,302.4 L752.0,302.0 L753.0,301.5 L754.0,301.3 L755.0,301.7 L756.0,303.0 L756.5,303.8 L757.0,304.5 L758.0,306.9 L759.0,309.5 L759.8,311.3 L760.0,311.8 L761.0,314.2 L762.0,315.9 L762.2,316.3 L763.0,316.9 L764.0,317.6 L765.0,317.9 L765.5,318.1 L766.0,317.8 L767.0,317.4 L768.0,316.8 L768.5,316.7 L769.0,316.9 L770.0,317.0 L771.0,317.5 L772.0,319.2 L773.0,322.3 L773.5,323.7 L774.0,325.1 L775.0,327.9 L776.0,330.8 L777.0,333.2 L777.2,333.7 L778.0,335.1 L779.0,336.9 L780.0,338.3 L781.0,339.5 L782.0,340.5 L783.0,341.5 L784.0,342.4 L785.0,343.0 L786.0,343.8 L787.0,344.4 L788.0,345.0 L789.0,345.7 L789.8,345.8 L790.0,344.1 L790.5,339.5 L791.0,347.2 L791.2,350.0 L792.0,347.9 L792.2,347.2 L793.0,347.3 L794.0,347.7 L795.0,348.5 L796.0,348.2 L797.0,348.3 L797.2,349.1 L798.0,348.5 L799.0,349.3 L800.0,348.6 L801.0,348.6 L802.0,347.8 L802.2,348.5 L803.0,347.2 L804.0,346.9 L805.0,346.4 L806.0,346.7 L807.0,346.1 L808.0,344.8 L808.5,344.9 L809.0,345.2 L810.0,344.3 L811.0,343.0 L812.0,342.6 L813.0,341.9 L813.5,341.5 L814.0,341.5 L815.0,340.2 L816.0,340.4 L817.0,338.8 L818.0,338.0 L818.5,337.7 L819.0,337.4 L820.0,336.4 L821.0,335.0 L821.5,334.8 L822.0,335.1 L823.0,335.8 L823.5,336.9 L824.0,337.6 L825.0,338.6 L825.2,338.4" stroke="#ec3535" stroke-width="1.0"/>
<path d="M110.2,496.8 L111.0,496.6 L112.0,496.3 L113.0,496.0 L114.0,495.7 L115.0,495.4 L116.0,495.0 L116.8,494.9 L117.0,494.9 L118.0,494.6 L119.0,494.4 L120.0,494.0 L121.0,493.8 L122.0,493.6 L123.0,493.5 L124.0,493.4 L124.2,493.3 L125.0,493.5 L126.0,494.1 L127.0,494.8 L127.9,495.0 L128.0,494.8 L129.0,493.9 L130.0,492.4 L130.1,492.4 L131.0,492.0 L132.0,491.6 L132.3,491.7 L133.0,490.8 L134.0,489.6 L134.5,489.5 L135.0,489.8 L136.0,490.7 L136.3,491.0 L137.0,490.2 L138.0,488.8 L138.2,488.6 L139.0,489.7 L140.0,491.7 L140.4,492.0 L141.0,490.6 L141.9,488.0 L142.0,488.0 L143.0,489.9 L143.7,490.8 L144.0,490.7 L145.0,489.2 L145.6,488.7 L146.0,488.8 L147.0,490.0 L147.8,490.5 L148.0,490.4 L149.0,489.1 L150.0,488.0 L151.0,488.7 L151.9,489.4 L152.0,489.4 L153.0,487.8 L154.0,486.6 L155.0,487.2 L155.9,488.0 L156.0,488.0 L157.0,486.3 L157.8,485.5 L158.0,485.4 L159.0,486.1 L159.9,486.4 L160.0,486.4 L161.0,484.6 L161.4,484.4 L162.0,486.0 L162.8,488.8 L163.0,488.7 L164.0,486.8 L164.8,485.0 L165.0,484.7 L166.0,483.8 L166.2,483.6 L167.0,481.3 L167.7,480.1 L168.0,480.4 L169.0,482.7 L169.2,482.7 L170.0,481.3 L171.0,479.0 L172.0,480.6 L172.6,481.3 L173.0,480.7 L174.0,477.6 L174.1,477.7 L175.0,479.7 L175.5,480.6 L176.0,479.7 L177.0,476.5 L177.3,476.1 L178.0,477.4 L178.8,479.1 L179.0,479.0 L180.0,474.4 L180.5,473.1 L181.0,474.1 L182.0,476.2 L183.0,472.9 L183.9,470.1 L184.0,470.2 L185.0,471.5 L185.4,471.7 L186.0,471.1 L187.0,468.5 L187.6,467.4 L188.0,466.6 L189.0,465.3 L190.0,464.1 L191.0,463.0 L191.3,462.9 L192.0,462.6 L193.0,462.1 L194.0,461.7 L194.3,461.3 L195.0,460.6 L196.0,459.1 L196.5,459.0 L197.0,459.2 L198.0,460.6 L198.3,460.8 L199.0,459.9 L200.0,458.2 L200.2,458.0 L201.0,458.1 L202.0,458.4 L202.4,458.4 L203.0,458.0 L204.0,456.7 L204.6,455.8 L205.0,455.4 L206.0,454.3 L206.5,454.1 L207.0,454.5 L208.0,456.3 L208.3,456.5 L209.0,456.0 L210.0,455.0 L210.5,454.9 L211.0,454.9 L212.0,455.0 L212.7,455.2 L213.0,455.1 L214.0,454.4 L214.9,454.0 L215.0,454.1 L216.0,454.2 L217.0,454.5 L217.1,454.5 L218.0,454.0 L219.0,453.2 L219.4,453.0 L220.0,453.1 L221.0,453.9 L221.6,454.0 L222.0,453.6 L223.0,451.1 L223.5,450.6 L224.0,451.1 L225.0,453.1 L225.3,453.3 L226.0,453.0 L227.0,452.2 L227.2,452.2 L228.0,452.4 L229.0,453.5 L229.7,454.0 L230.0,454.2 L231.0,454.5 L231.9,454.9 L232.0,454.9 L233.0,455.1 L234.0,455.4 L235.0,455.6 L235.9,455.8 L236.0,455.9 L237.0,456.1 L238.0,457.4 L239.0,458.2 L240.0,458.6 L240.3,459.0 L241.0,459.5 L242.0,460.2 L243.0,460.4 L244.0,461.5 L244.8,461.8 L245.0,461.9 L246.0,462.1 L247.0,462.6 L248.0,463.1 L249.0,463.3 L249.2,463.4 L250.0,463.1 L251.0,463.6 L252.0,464.3 L253.0,464.8 L253.6,464.4 L254.0,464.9 L255.0,464.9 L256.0,464.3 L257.0,464.7 L258.0,464.5 L259.0,464.4 L259.5,464.5 L260.0,464.6 L261.0,464.6 L262.0,464.6 L263.0,464.5 L264.0,464.9 L265.0,464.9 L266.0,465.2 L266.9,465.2 L267.0,464.9 L268.0,465.5 L269.0,464.7 L270.0,465.1 L271.0,465.1 L272.0,465.2 L273.0,465.0 L274.0,465.7 L274.3,465.3 L275.0,465.0 L276.0,465.6 L277.0,465.2 L278.0,465.6 L279.0,465.5 L280.0,465.7 L281.0,466.1 L281.6,466.0 L282.0,465.6 L283.0,465.9 L284.0,465.7 L285.0,465.3 L286.0,464.9 L287.0,465.1 L288.0,464.9 L289.0,465.1 L290.0,464.9 L291.0,464.4 L292.0,464.0 L293.0,464.2 L294.0,463.2 L295.0,463.1 L296.0,463.3 L296.4,463.3 L297.0,462.8 L298.0,463.1 L299.0,463.2 L300.0,462.6 L301.0,462.5 L302.0,462.2 L303.0,462.1 L303.8,462.6 L304.0,462.1 L305.0,462.4 L306.0,462.3 L307.0,461.8 L308.0,461.4 L309.0,461.9 L310.0,461.3 L311.0,461.0 L311.2,460.8 L312.0,461.2 L313.0,460.5 L314.0,460.0 L315.0,459.7 L316.0,459.0 L317.0,459.0 L317.1,458.7 L318.0,458.1 L319.0,457.8 L320.0,457.1 L321.0,455.7 L321.5,455.8 L322.0,455.3 L323.0,455.4 L324.0,454.9 L325.0,453.9 L325.9,453.4 L326.0,453.2 L327.0,453.1 L328.0,451.5 L328.9,450.8 L329.0,450.6 L330.0,449.4 L331.0,448.4 L331.1,448.4 L332.0,448.9 L333.0,449.9 L333.3,449.9 L334.0,449.9 L335.0,449.8 L336.0,449.7 L337.0,449.6 L337.7,449.5 L338.0,449.4 L339.0,449.3 L340.0,448.9 L341.0,448.4 L342.0,448.0 L342.1,448.0 L343.0,447.6 L344.0,446.9 L345.0,446.5 L345.1,446.4 L346.0,447.1 L347.0,448.2 L348.0,448.9 L349.0,448.8 L350.0,448.5 L351.0,448.0 L352.0,447.7 L352.5,447.4 L353.0,447.2 L354.0,447.0 L355.0,446.6 L356.0,446.3 L357.0,446.1 L358.0,445.7 L359.0,445.5 L360.0,445.3 L361.0,444.9 L362.0,444.5 L363.0,444.6 L364.0,444.4 L365.0,443.6 L366.0,443.6 L367.0,443.4 L368.0,443.1 L369.0,442.7 L370.0,442.3 L371.0,442.4 L372.0,442.3 L373.0,441.5 L374.0,441.3 L375.0,441.5 L376.0,441.2 L377.0,440.8 L378.0,440.1 L379.0,440.3 L380.0,440.2 L381.0,440.0 L382.0,439.5 L383.0,438.8 L384.0,439.1 L385.0,438.3 L386.0,438.4 L387.0,438.3 L388.0,437.9 L389.0,437.2 L390.0,437.0 L391.0,437.2 L392.0,436.4 L393.0,436.4 L394.0,436.0 L395.0,435.6 L396.0,435.6 L397.0,435.0 L398.0,434.7 L399.0,434.7 L400.0,434.2 L401.0,433.9 L402.0,434.0 L403.0,433.9 L404.0,433.7 L405.0,432.9 L406.0,432.9 L407.0,432.6 L408.0,432.5 L409.0,432.2 L410.0,432.2 L411.0,431.6 L412.0,431.1 L413.0,431.3 L414.0,430.7 L415.0,430.8 L416.0,430.4 L417.0,430.5 L418.0,430.0 L419.0,429.8 L420.0,429.3 L421.0,429.3 L422.0,428.9 L423.0,429.0 L424.0,428.7 L425.0,428.2 L426.0,428.1 L427.0,428.0 L428.0,428.0 L429.0,427.4 L430.0,427.6 L431.0,427.4 L432.0,426.8 L433.0,427.0 L434.0,426.3 L435.0,426.1 L436.0,426.2 L437.0,425.7 L437.5,426.0 L438.0,425.6 L439.0,425.3 L440.0,425.3 L441.0,424.5 L441.2,424.5 L442.0,423.2 L443.0,421.3 L443.2,421.3 L444.0,422.2 L445.0,424.2 L446.0,425.6 L446.8,426.3 L447.0,425.9 L448.0,421.7 L448.2,421.2 L449.0,422.4 L450.0,424.2 L451.0,424.3 L452.0,424.4 L453.0,424.5 L453.8,424.5 L454.0,424.5 L455.0,423.9 L456.0,424.2 L457.0,423.6 L458.0,423.2 L458.8,422.4 L459.0,422.7 L460.0,421.9 L461.0,421.4 L462.0,420.7 L463.0,420.3 L464.0,419.3 L465.0,418.4 L466.0,417.8 L467.0,417.4 L467.5,417.0 L468.0,417.7 L469.0,416.9 L470.0,416.8 L471.0,415.6 L472.0,415.8 L473.0,415.8 L474.0,415.2 L475.0,414.7 L476.0,414.5 L477.0,413.8 L478.0,413.6 L479.0,413.3 L480.0,413.2 L481.0,413.0 L482.0,413.2 L483.0,412.2 L484.0,412.0 L485.0,411.8 L486.0,411.4 L487.0,411.2 L487.5,411.0 L488.0,411.1 L489.0,410.3 L490.0,410.9 L491.0,410.1 L492.0,410.3 L493.0,409.8 L494.0,409.5 L495.0,409.0 L496.0,409.2 L497.0,408.0 L498.0,408.3 L499.0,407.6 L500.0,407.7 L501.0,407.5 L502.0,406.7 L503.0,406.5 L504.0,406.0 L505.0,406.0 L506.0,405.6 L507.0,405.7 L508.0,406.0 L509.0,405.2 L510.0,404.9 L511.0,404.9 L512.0,404.5 L513.0,404.7 L514.0,404.5 L515.0,403.7 L516.0,403.6 L517.0,403.8 L518.0,403.9 L519.0,403.4 L520.0,403.0 L521.0,403.3 L522.0,402.2 L523.0,402.0 L524.0,402.5 L525.0,401.9 L526.0,401.3 L527.0,401.6 L528.0,401.8 L529.0,401.1 L530.0,400.7 L531.0,400.1 L532.0,399.9 L533.0,400.4 L534.0,399.8 L535.0,400.0 L536.0,398.9 L537.0,398.9 L538.0,398.4 L539.0,398.7 L540.0,398.4 L541.0,398.2 L542.0,398.1 L543.0,397.9 L544.0,397.7 L544.4,397.7 L545.0,398.3 L546.0,399.2 L546.2,399.3 L547.0,397.4 L547.4,396.6 L548.0,396.2 L549.0,396.0 L549.6,395.9 L550.0,396.4 L551.0,398.2 L551.1,398.1 L552.0,395.8 L552.5,394.7 L553.0,395.0 L554.0,396.0 L555.0,395.0 L555.9,394.1 L556.0,394.1 L557.0,394.4 L557.7,394.5 L558.0,394.4 L559.0,393.1 L559.2,393.1 L560.0,393.4 L560.7,393.6 L561.0,394.2 L561.8,396.3 L562.0,395.9 L562.9,392.7 L563.0,392.7 L564.0,392.7 L565.0,393.0 L565.1,393.0 L566.0,394.4 L566.6,395.0 L567.0,395.0 L568.0,394.5 L569.0,395.6 L569.5,395.9 L570.0,396.0 L571.0,395.5 L571.3,395.5 L572.0,396.0 L572.8,397.1 L573.0,397.4 L573.9,399.3 L574.0,399.2 L574.8,394.9 L575.0,393.8 L576.0,389.2 L576.2,388.9 L577.0,391.0 L577.2,391.2 L578.0,387.9 L578.7,385.3 L579.0,385.3 L580.0,386.1 L580.1,386.0 L581.0,384.6 L581.3,383.8 L582.0,380.2 L582.3,379.3 L583.0,385.7 L583.2,386.6 L584.0,381.2 L584.3,380.1 L585.0,380.6 L585.4,380.8 L586.0,379.1 L586.5,378.0 L587.0,379.4 L587.5,380.7 L588.0,379.8 L588.4,378.5 L589.0,375.9 L589.4,375.0 L590.0,387.4 L590.3,391.6 L591.0,376.5 L591.1,375.7 L591.9,374.9 L592.0,375.1 L592.7,380.7 L593.0,378.5 L593.4,375.0 L594.0,383.2 L594.3,385.9 L595.0,377.6 L595.2,376.3 L596.0,380.7 L596.1,380.8 L597.0,380.2 L597.8,386.8 L598.0,386.0 L598.7,381.6 L599.0,381.8 L600.0,382.7 L600.5,383.0 L601.0,383.1 L602.0,383.3 L602.7,383.4 L603.0,383.4 L604.0,383.8 L604.6,383.8 L605.0,382.8 L605.7,380.9 L606.0,382.2 L606.4,384.4 L607.0,382.8 L607.6,380.0 L608.0,378.8 L608.5,377.9 L609.0,385.3 L609.5,392.6 L610.0,383.5 L610.4,377.1 L611.0,379.0 L611.4,380.1 L612.0,373.5 L612.3,371.3 L613.0,382.2 L613.2,383.8 L614.0,375.2 L614.1,375.0 L615.0,377.5 L615.3,378.0 L616.0,376.9 L616.4,376.4 L617.0,379.3 L617.5,381.7 L618.0,379.3 L618.5,377.0 L619.0,377.5 L619.4,378.5 L620.0,387.6 L620.3,390.5 L621.0,380.0 L621.2,378.7 L622.0,380.4 L622.6,381.6 L623.0,381.1 L624.0,378.4 L624.1,378.4 L625.0,379.2 L625.9,380.0 L626.0,380.1 L627.0,378.3 L627.4,377.8 L628.0,378.7 L628.5,379.3 L629.0,376.7 L629.6,373.4 L630.0,378.0 L630.5,384.5 L631.0,380.8 L631.5,377.1 L632.0,377.4 L633.0,378.0 L634.0,376.8 L634.4,376.4 L635.0,377.5 L635.6,378.6 L636.0,378.0 L637.0,374.9 L637.1,374.9 L638.0,375.9 L638.6,376.4 L639.0,375.9 L640.0,373.6 L640.3,373.3 L641.0,373.4 L642.0,373.7 L642.6,374.0 L643.0,374.1 L644.0,374.4 L644.8,375.0 L645.0,375.0 L646.0,376.0 L647.0,377.0 L648.0,378.8 L649.0,380.1 L649.2,380.2 L650.0,379.7 L651.0,378.4 L651.4,378.0 L652.0,377.3 L653.0,376.3 L654.0,375.2 L654.4,374.9 L655.0,374.4 L656.0,373.3 L657.0,372.8 L657.3,372.7 L658.0,372.7 L659.0,372.6 L660.0,372.7 L661.0,372.6 L662.0,372.8 L663.0,372.9 L664.0,373.0 L665.0,373.1 L665.4,373.1 L666.0,373.1 L667.0,373.3 L668.0,373.4 L669.0,373.5 L670.0,373.7 L671.0,374.8 L672.0,376.5 L672.5,377.5 L673.0,378.6 L674.0,381.4 L675.0,383.8 L676.0,385.3 L677.0,386.8 L677.5,387.6 L678.0,388.2 L679.0,389.6 L680.0,391.1 L681.0,392.3 L681.2,392.6 L682.0,393.3 L683.0,394.2 L684.0,395.0 L685.0,395.8 L686.0,396.3 L687.0,396.5 L688.0,396.7 L689.0,396.9 L690.0,397.2 L691.0,397.4 L692.0,398.5 L693.0,400.6 L694.0,403.2 L694.8,405.0 L695.0,405.6 L696.0,409.1 L697.0,412.7 L698.0,414.3 L699.0,413.6 L700.0,411.8 L701.0,409.6 L702.0,407.8 L702.2,407.6 L703.0,406.6 L704.0,405.1 L705.0,404.1 L706.0,403.2 L706.8,403.1 L707.0,403.0 L708.0,403.9 L709.0,405.2 L709.8,406.2 L710.0,406.6 L711.0,408.7 L712.0,410.9 L713.0,411.9 L714.0,411.1 L715.0,409.4 L716.0,407.4 L717.0,405.7 L718.0,403.9 L719.0,403.1 L720.0,403.5 L721.0,404.5 L722.0,406.0 L722.2,406.3 L723.0,407.7 L724.0,410.5 L725.0,413.5 L725.5,414.9 L726.0,416.5 L727.0,420.2 L728.0,423.1 L728.5,423.7 L729.0,423.9 L730.0,424.1 L731.0,424.2 L732.0,425.0 L733.0,426.4 L734.0,428.2 L735.0,429.8 L736.0,431.3 L737.0,432.2 L738.0,433.1 L739.0,433.8 L740.0,434.7 L741.0,435.6 L742.0,436.4 L743.0,437.7 L744.0,438.8 L745.0,440.0 L746.0,441.2 L747.0,442.5 L748.0,443.9 L749.0,445.4 L750.0,446.9 L751.0,448.2 L752.0,449.6 L752.2,450.0 L753.0,451.1 L754.0,452.5 L755.0,453.9 L756.0,455.2 L757.0,456.6 L758.0,458.1 L758.5,458.8 L759.0,459.4 L760.0,461.2 L761.0,462.6 L761.5,463.0 L762.0,463.1 L763.0,463.3 L764.0,463.4 L764.8,463.7 L765.0,464.0 L766.0,464.8 L767.0,466.2 L768.0,468.0 L768.5,468.7 L769.0,469.6 L770.0,471.8 L771.0,474.1 L772.0,476.9 L772.2,477.5 L773.0,479.6 L774.0,483.1 L775.0,486.7 L776.0,490.0 L777.0,493.1 L778.0,496.0 L779.0,498.7 L780.0,501.3 L781.0,503.5 L782.0,505.2 L782.2,505.4 L783.0,506.2 L784.0,507.1 L785.0,507.6 L786.0,508.0 L787.0,508.2 L788.0,508.5 L789.0,508.8 L789.8,508.7 L790.0,508.7 L791.0,507.8 L791.5,507.5 L792.0,508.1 L793.0,510.6 L793.5,511.2 L794.0,511.2 L795.0,510.4 L796.0,509.2 L797.0,507.9 L797.2,507.6 L798.0,506.4 L799.0,505.0 L800.0,503.3 L801.0,501.6 L802.0,499.0 L803.0,497.7 L804.0,495.3 L805.0,493.8 L806.0,491.7 L807.0,488.9 L808.0,486.9 L809.0,484.7 L810.0,482.9 L811.0,481.0 L812.0,479.8 L813.0,477.8 L814.0,477.2 L815.0,478.7 L816.0,479.6 L817.0,478.6 L818.0,477.0 L818.5,476.6 L819.0,476.1 L820.0,476.9 L821.0,478.3 L822.0,477.4 L823.0,475.4 L823.5,474.6 L824.0,474.8 L825.0,476.3 L825.2,476.7" stroke="#3c3c3c" stroke-width="1.1"/>
</g>
<rect x="110" y="20" width="715.8" height="527" fill="none" stroke="#000" stroke-width="2"/>
<g stroke="#000" stroke-width="2"><line x1="110.00" y1="547" x2="110.00" y2="556.6"/><line x1="161.13" y1="547" x2="161.13" y2="551.6"/><line x1="212.26" y1="547" x2="212.26" y2="556.6"/><line x1="263.39" y1="547" x2="263.39" y2="551.6"/><line x1="314.51" y1="547" x2="314.51" y2="556.6"/><line x1="365.64" y1="547" x2="365.64" y2="551.6"/><line x1="416.77" y1="547" x2="416.77" y2="556.6"/><line x1="467.90" y1="547" x2="467.90" y2="551.6"/><line x1="519.03" y1="547" x2="519.03" y2="556.6"/><line x1="570.16" y1="547" x2="570.16" y2="551.6"/><line x1="621.29" y1="547" x2="621.29" y2="556.6"/><line x1="672.41" y1="547" x2="672.41" y2="551.6"/><line x1="723.54" y1="547" x2="723.54" y2="556.6"/><line x1="774.67" y1="547" x2="774.67" y2="551.6"/><line x1="825.80" y1="547" x2="825.80" y2="556.6"/></g>
<g class="tk"><text transform="translate(110.00,581.7) scale(1,1)">4000</text><text transform="translate(212.26,581.7) scale(1,1)">3500</text><text transform="translate(314.51,581.7) scale(1,1)">3000</text><text transform="translate(416.77,581.7) scale(1,1)">2500</text><text transform="translate(519.03,581.7) scale(1,1)">2000</text><text transform="translate(621.29,581.7) scale(1,1)">1500</text><text transform="translate(723.54,581.7) scale(1,1)">1000</text><text transform="translate(825.80,581.7) scale(1,1)">500</text></g>
<rect x="366.25" y="137.5" width="105" height="80" fill="#fff" stroke="#000" stroke-width="1.5"/>
<path d="M366.8,180.7 L367.2,180.5 L367.8,180.2 L368.2,180.4 L368.8,179.7 L369.2,179.8 L369.8,179.9 L370.2,179.2 L370.8,179.3 L371.2,179.2 L371.8,178.7 L372.2,178.7 L372.8,178.8 L373.2,178.6 L373.8,178.6 L374.2,178.2 L374.8,178.1 L375.2,178.0 L375.8,178.2 L376.2,178.3 L376.8,178.1 L377.2,178.2 L377.8,177.9 L378.2,178.1 L378.8,177.7 L379.2,177.8 L379.8,178.1 L380.2,178.2 L380.8,178.0 L381.2,177.9 L381.8,178.1 L382.2,178.2 L382.8,178.4 L383.2,178.8 L383.8,178.6 L384.2,179.1 L384.8,179.3 L385.2,179.0 L385.8,179.3 L386.2,179.6 L386.8,179.5 L387.2,179.9 L387.8,180.3 L388.2,180.0 L388.8,180.5 L389.2,180.4 L389.8,180.8 L390.2,181.2 L390.8,181.0 L391.2,181.1 L391.8,181.3 L392.2,181.8 L392.8,181.7 L393.2,182.0 L393.8,182.4 L394.2,182.9 L394.8,182.8 L395.2,183.1 L395.8,183.5 L396.2,183.5 L396.8,184.1 L397.2,184.2 L397.8,184.8 L398.2,185.4 L398.8,185.2 L399.2,185.7 L399.8,186.0 L400.2,185.9 L400.8,186.1 L401.2,186.5 L401.8,186.5 L402.2,185.8 L402.8,185.9 L403.2,185.8 L403.8,185.1 L404.2,184.9 L404.8,184.2 L405.2,184.0 L405.8,183.8 L406.2,183.4 L406.8,183.1 L407.2,182.4 L407.8,182.3 L408.2,182.3 L408.8,181.9 L409.2,181.5 L409.8,181.2 L410.2,181.3 L410.8,180.7 L411.2,180.1 L411.8,180.3 L412.2,179.8 L412.8,179.6 L413.2,179.3 L413.8,179.2 L414.2,178.9 L414.8,178.6 L415.2,178.7 L415.8,178.3 L416.2,178.5 L416.8,177.9 L417.2,178.3 L417.8,178.2 L418.2,177.9 L418.8,177.9 L419.2,177.5 L419.8,177.8 L420.2,177.5 L420.8,177.4 L421.2,177.8 L421.8,177.4 L422.2,177.4 L422.8,177.7 L423.2,177.5 L423.8,177.7 L424.2,177.5 L424.8,178.0 L425.2,177.7 L425.8,177.7 L426.2,178.5 L426.8,178.2 L427.2,178.9 L427.8,179.2 L428.2,179.3 L428.8,179.4 L429.2,180.0 L429.8,180.5 L430.2,181.1 L430.8,181.7 L431.2,182.3 L431.8,182.2 L432.2,182.5 L432.8,183.0 L433.2,182.8 L433.8,182.8 L434.2,182.8 L434.8,182.4 L435.2,181.5 L435.8,181.0 L436.2,180.5 L436.8,179.9 L437.2,179.0 L437.8,178.7 L438.2,177.7 L438.8,177.4 L439.2,176.8 L439.8,176.2 L440.2,175.3 L440.8,174.5 L441.2,173.9 L441.8,173.7 L442.2,173.0 L442.8,172.9 L443.2,172.2 L443.8,172.3 L444.2,171.7 L444.8,171.3 L445.2,171.2 L445.8,171.2 L446.2,171.1 L446.8,170.8 L447.2,170.6 L447.8,170.6 L448.2,170.7 L448.8,170.4 L449.2,170.5 L449.8,169.8 L450.2,170.2 L450.8,170.0 L451.2,169.7 L451.8,169.5 L452.2,169.4 L452.8,169.5 L453.2,168.9 L453.8,169.1 L454.2,169.0 L454.8,168.7 L455.2,168.9 L455.8,168.8 L456.2,168.3 L456.8,168.6 L457.2,168.4 L457.8,168.3 L458.2,168.3 L458.8,167.9 L459.2,168.2 L459.8,168.0 L460.2,168.2 L460.8,167.8 L461.2,168.1 L461.8,168.0 L462.2,167.9 L462.8,168.0 L463.2,167.4 L463.8,167.8 L464.2,167.8 L464.8,167.8 L465.2,167.6 L465.8,167.4 L466.2,167.4 L466.8,167.7 L467.2,167.4 L467.8,167.3 L468.2,167.5 L468.8,167.6 L469.2,167.6 L469.8,167.3 L470.2,167.7 L470.8,167.4" fill="none" stroke="#2a6fdd" stroke-width="1.3"/>
<line x1="453.60" y1="137.40" x2="470.40" y2="90.36" stroke="#000" stroke-width="1.60"/><polygon points="474.10,80.00 475.71,93.32 464.41,89.28" fill="#000"/><line x1="447.90" y1="86.60" x2="457.36" y2="79.21" stroke="#000" stroke-width="1.10"/><polygon points="468.40,70.60 459.04,82.98 454.11,76.68" fill="#000"/><line x1="499.60" y1="89.80" x2="492.27" y2="81.17" stroke="#000" stroke-width="1.10"/><polygon points="483.20,70.50 495.96,79.34 489.86,84.52" fill="#000"/>
<g class="pk">
<text transform="translate(431.50,103.80) scale(1.000,1)">2231</text>
<text transform="translate(479.50,105.50) scale(1.000,1)">2164</text>
<text transform="translate(582.50,203.00) scale(1.000,1)">1647</text>
<text transform="translate(738.50,206.20) scale(1.000,1)">964</text>
<text transform="translate(774.70,212.00) scale(1.000,1)">657</text>
<text transform="translate(746.50,339.50) scale(1.000,1)">802</text>
<text transform="translate(779.00,372.50) scale(1.000,1)">657</text>
<text transform="translate(678.30,376.00) scale(1.000,1)">1103</text>
<text transform="translate(771.00,529.20) scale(1.000,1)">657</text>
</g>
<g class="ab">
<text transform="translate(130.30,129.50) scale(1.000,1)">(c)</text>
<text transform="translate(133.50,286.20) scale(1.000,1)">(b)</text>
<text transform="translate(141.50,465.50) scale(1.000,1)">(a)</text>
</g>
<rect x="594.5" y="25.5" width="213" height="105.8" fill="#fff" stroke="#2a2a2a" stroke-width="1.1"/>
<line x1="597.2" y1="41.5" x2="648.9" y2="41.5" stroke="#2a6fdd" stroke-width="1.15"/>
<line x1="597.2" y1="76" x2="648.9" y2="76" stroke="#f68c8c" stroke-width="2"/>
<line x1="597.2" y1="110.5" x2="648.9" y2="110.5" stroke="#4a4a4a" stroke-width="1"/>
<g class="lg">
<text transform="translate(655.20,49.80) scale(1.000,1)">Fe<tspan font-size="16.4" dy="7">3</tspan><tspan dy="-7">O</tspan><tspan font-size="16.4" dy="7">4</tspan><tspan dy="-7">/SiO</tspan><tspan font-size="16.4" dy="7">2</tspan><tspan dy="-7">-AO</tspan></text>
<text transform="translate(655.20,83.80) scale(1.000,1)">Fe<tspan font-size="16.4" dy="7">3</tspan><tspan dy="-7">O</tspan><tspan font-size="16.4" dy="7">4</tspan><tspan dy="-7">/SiO</tspan><tspan font-size="16.4" dy="7">2</tspan></text>
<text transform="translate(655.20,117.70) scale(1.000,1)">Fe<tspan font-size="16.4" dy="7">3</tspan><tspan dy="-7">O</tspan><tspan font-size="16.4" dy="7">4</tspan></text>
</g>
<text transform="translate(361.60,626.90) scale(1.000,1)" font-size="27.5">Wavenumber(cm<tspan font-size="17.5" dy="-11">-1</tspan><tspan dy="11">)</tspan></text>
<text transform="translate(76.9,374.8) rotate(-90)" font-size="27.1">% Transmittance</text>
</svg>
</body></html>
